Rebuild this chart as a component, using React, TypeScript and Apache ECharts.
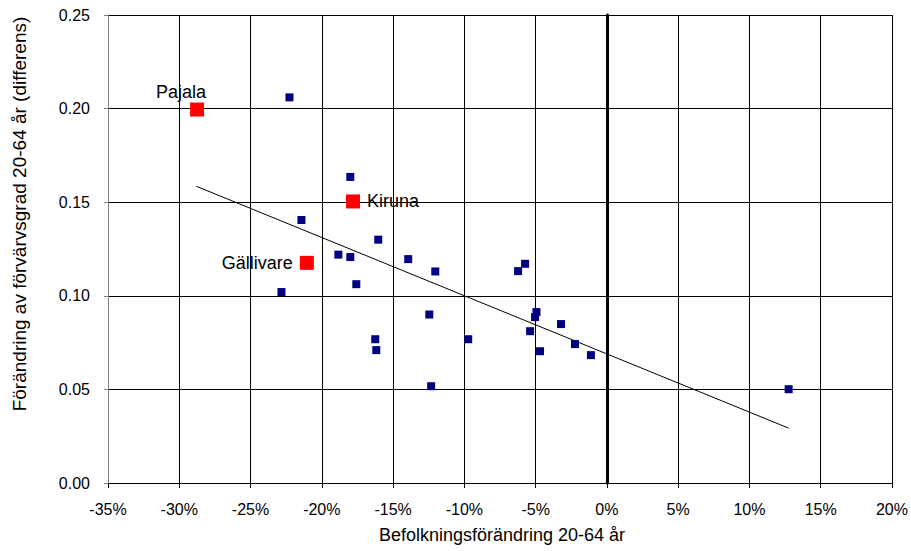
import React, { useEffect, useRef } from "react";
import * as echarts from "echarts";

// Population change 20-64 (%) and change in employment rate (difference)
const otherX = [-22.27, -18.0, -21.43, -16.04, -18.84, -18.0, -13.94, -12.04, -17.58, -22.83, -12.46, -16.25, -9.73, -16.18, -12.33, -5.74, -6.23, -4.94, -5.04, -5.39, -3.22, -4.69, -2.24, -1.12, 12.75];
const otherY = [0.206, 0.1635, 0.1405, 0.130, 0.122, 0.1207, 0.1196, 0.113, 0.1062, 0.102, 0.090, 0.0768, 0.0768, 0.071, 0.0517, 0.1171, 0.1132, 0.0913, 0.0886, 0.0811, 0.0849, 0.0704, 0.0742, 0.0683, 0.0501];

const highlightNames = ["Pajala", "Kiruna", "Gällivare"];
const highlightX = [-28.75, -17.81, -21.05];
const highlightY = [0.1995, 0.1504, 0.1176];

const trendX = [-28.8, 12.75];
const trendY = [0.1585, 0.0293];

const xTitle = "Befolkningsförändring 20-64 år";
const yTitle = "Förändring av förvärvsgrad 20-64 år (differens)";

const FONT = '"Liberation Sans", Arial, sans-serif';

export default function App() {
  const ref = useRef<HTMLDivElement>(null);
  useEffect(() => {
    if (!ref.current) return;
    const chart = echarts.init(ref.current, undefined, { renderer: "svg" });
    const labelCfg: any[] = [
      { position: "top", distance: 2, offset: [-16, 0] },
      { position: "right", distance: 7 },
      { position: "left", distance: 7 },
    ];
    chart.setOption({
      animation: false,
      backgroundColor: "#fff",
      textStyle: { fontFamily: FONT },
      grid: { left: 108, right: 18, top: 15, bottom: 68, show: false },
      xAxis: {
        type: "value",
        min: -35,
        max: 20,
        interval: 5,
        axisLine: { show: true, onZero: false, lineStyle: { color: "#000", width: 1 } },
        axisTick: { show: true, length: 5, lineStyle: { color: "#000" } },
        axisLabel: { color: "#000", fontSize: 16, margin: 18, fontFamily: FONT, formatter: (v: number) => `${v}%` },
        splitLine: { show: true, lineStyle: { color: "#000", width: 1 } },
      },
      yAxis: [
        {
          type: "value",
          min: 0,
          max: 0.25,
          interval: 0.05,
          axisLine: { show: true, onZero: false, lineStyle: { color: "#808080", width: 1 } },
          axisTick: { show: true, length: 4, lineStyle: { color: "#808080" } },
          axisLabel: { color: "#000", fontSize: 16, margin: 18, fontFamily: FONT, formatter: (v: number) => v.toFixed(2) },
          splitLine: { show: true, lineStyle: { color: "#000", width: 1 } },
        },
        {
          type: "value",
          min: 0,
          max: 0.25,
          interval: 0.05,
          position: "left",
          axisLine: { show: true, onZero: true, lineStyle: { color: "#000", width: 3 } },
          axisTick: { show: true, length: 5, lineStyle: { color: "#000", width: 1 } },
          axisLabel: { show: false },
          splitLine: { show: false },
        },
      ],
      graphic: [
        {
          type: "text",
          x: 502,
          y: 535,
          style: { text: xTitle, font: `18px ${FONT}`, fill: "#000", align: "center", verticalAlign: "middle" },
        },
        {
          type: "text",
          x: 19,
          y: 214,
          rotation: Math.PI / 2,
          style: { text: yTitle, font: `19px ${FONT}`, fill: "#000", align: "center", verticalAlign: "middle" },
        },
      ],
      series: [
        {
          type: "line",
          data: trendX.map((x, i) => [x, trendY[i]]),
          showSymbol: false,
          symbol: "none",
          lineStyle: { color: "#000", width: 1 },
          z: 3,
        },
        {
          type: "scatter",
          data: otherX.map((x, i) => [x, otherY[i]]),
          symbol: "rect",
          symbolSize: 8,
          itemStyle: { color: "#000080", opacity: 1 },
          z: 4,
        },
        {
          type: "scatter",
          data: highlightX.map((x, i) => ({
            value: [x, highlightY[i]],
            name: highlightNames[i],
            label: {
              show: true,
              formatter: highlightNames[i],
              color: "#000",
              fontSize: 18,
              fontFamily: FONT,
              ...labelCfg[i],
            },
          })),
          symbol: "rect",
          symbolSize: 14,
          itemStyle: { color: "#ff0000", opacity: 1 },
          z: 5,
        },
      ],
    });
    return () => chart.dispose();
  }, []);
  return <div ref={ref} style={{ position: "fixed", left: 0, top: 0, width: 911, height: 551 }} />;
}
